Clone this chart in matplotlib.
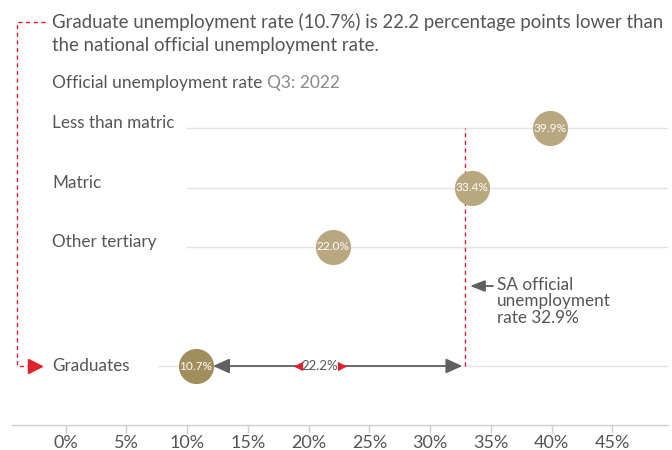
import matplotlib
matplotlib.use("Agg")
import matplotlib.pyplot as plt
from matplotlib.lines import Line2D

plt.rcParams['font.family'] = ['Lato', 'DejaVu Sans']

categories = ["Less than matric", "Matric", "Other tertiary", "Graduates"]
rates = [39.9, 33.4, 22.0, 10.7]
row_pos = [4, 3, 2, 0]
national_rate = 32.9
xticks = [0, 5, 10, 15, 20, 25, 30, 35, 40, 45]
xtick_labels = ["0%", "5%", "10%", "15%", "20%", "25%", "30%", "35%", "40%", "45%"]

TEXT = "#555555"
LIGHT = "#8a8a8a"
TAN = "#b8a77f"
TAN_DARK = "#a28e5c"
RED = "#e0202a"
GRID = "#e3e3e3"

W, H = 672, 450
fig = plt.figure(figsize=(W / 100, H / 100), dpi=100)

# pixel layout of the axes
x0_px, px_per_pct = 65.7, 12.15
y0_px, px_per_row = 366.0, 59.5
ax_left_px, ax_right_px = 12, 668
ax_bottom_px, ax_top_px = 425, 100

def dx(p):
    return (p - x0_px) / px_per_pct

def dy(p):
    return (y0_px - p) / px_per_row

ax = fig.add_axes([ax_left_px / W, 1 - ax_bottom_px / H,
                   (ax_right_px - ax_left_px) / W, (ax_bottom_px - ax_top_px) / H])
ax.set_xlim(dx(ax_left_px), dx(ax_right_px))
ax.set_ylim(dy(ax_bottom_px), dy(ax_top_px))

for s in ["top", "right", "left"]:
    ax.spines[s].set_visible(False)
ax.spines["bottom"].set_color("#cfcfcf")
ax.spines["bottom"].set_linewidth(1.0)
ax.set_yticks([])
ax.set_xticks(xticks)
ax.set_xticklabels(xtick_labels)
ax.tick_params(axis="x", colors="#cfcfcf", labelcolor=TEXT, labelsize=13,
               length=6, width=1, pad=1)

# gridlines & category labels
for cat, y in zip(categories, row_pos):
    start = dx(158) if cat == "Graduates" else dx(187)
    ax.plot([start, dx(ax_right_px)], [y, y], color=GRID, lw=1, zorder=1)
    off = 0 if cat == "Graduates" else 0.08
    ax.text(dx(52), y + off, cat, ha="left", va="center", fontsize=12.3, color=TEXT)

# bubbles
for cat, v, y in zip(categories, rates, row_pos):
    c = TAN_DARK if cat == "Graduates" else TAN
    ax.scatter([v], [y], s=640, color=c, zorder=3, linewidths=0)
    ax.text(v, y, f"{v:.1f}%", ha="center", va="center", color="white",
            fontsize=8.6, zorder=4)

# national rate dashed line
ax.plot([national_rate, national_rate], [row_pos[3], row_pos[0]], color=RED,
        lw=1, ls=(0, (3, 2.5)), zorder=2)

# double arrow between graduates and national rate
g = rates[3]
ax.annotate("", xy=(dx(213), row_pos[3]), xytext=(national_rate - 0.25, row_pos[3]),
            arrowprops=dict(arrowstyle="<|-|>,head_length=1.0,head_width=0.45",
                            color="#5f6062", lw=1.3, shrinkA=0, shrinkB=0), zorder=3)
gap = national_rate - g
mid = dx(320)
ax.text(mid, row_pos[3], f"{gap:.1f}%", ha="center", va="center", fontsize=9.5,
        color=TEXT, zorder=5, bbox=dict(boxstyle="square,pad=0.2", fc="white", ec="none"))
ax.scatter([dx(298)], [row_pos[3]], marker="<", s=45, color=RED, zorder=6, linewidths=0)
ax.scatter([dx(341.5)], [row_pos[3]], marker=">", s=45, color=RED, zorder=6, linewidths=0)

# SA official annotation
ax.annotate("", xy=(dx(470), dy(286)), xytext=(dx(493), dy(286)),
            arrowprops=dict(arrowstyle="-|>,head_length=0.9,head_width=0.35",
                            color="#5f6062", lw=1.3, shrinkA=0, shrinkB=0))
ax.text(dx(497), dy(277), "SA official\nunemployment\nrate 32.9%", ha="left",
        va="top", fontsize=12.3, color=TEXT, linespacing=1.02)

# left red dashed bracket (figure pixel coords)
def fx(p):
    return p / W

def fy(p):
    return 1 - p / H

fig.add_artist(Line2D([fx(45), fx(17), fx(17), fx(32)], [fy(22), fy(22), fy(366), fy(366)],
                      transform=fig.transFigure, color=RED, lw=1, ls=(0, (3, 2.5))))
fig.add_artist(Line2D([fx(35)], [fy(366)], transform=fig.transFigure, marker=">",
                      markersize=10, color=RED, lw=0))

fig.text(fx(52), fy(22), "Graduate unemployment rate (10.7%) is 22.2 percentage points lower than",
         ha="left", va="center", fontsize=13.4, color=TEXT)
fig.text(fx(52), fy(46), "the national official unemployment rate.",
         ha="left", va="center", fontsize=13.4, color=TEXT)
t1 = fig.text(fx(52), fy(83), "Official unemployment rate ", ha="left", va="center",
              fontsize=12.5, color=TEXT)
fig.canvas.draw()
bb = t1.get_window_extent()
fig.text(bb.x1 / W, fy(83), "Q3: 2022", ha="left", va="center", fontsize=12.5, color=LIGHT)

fig.savefig("out.png", dpi=100)
